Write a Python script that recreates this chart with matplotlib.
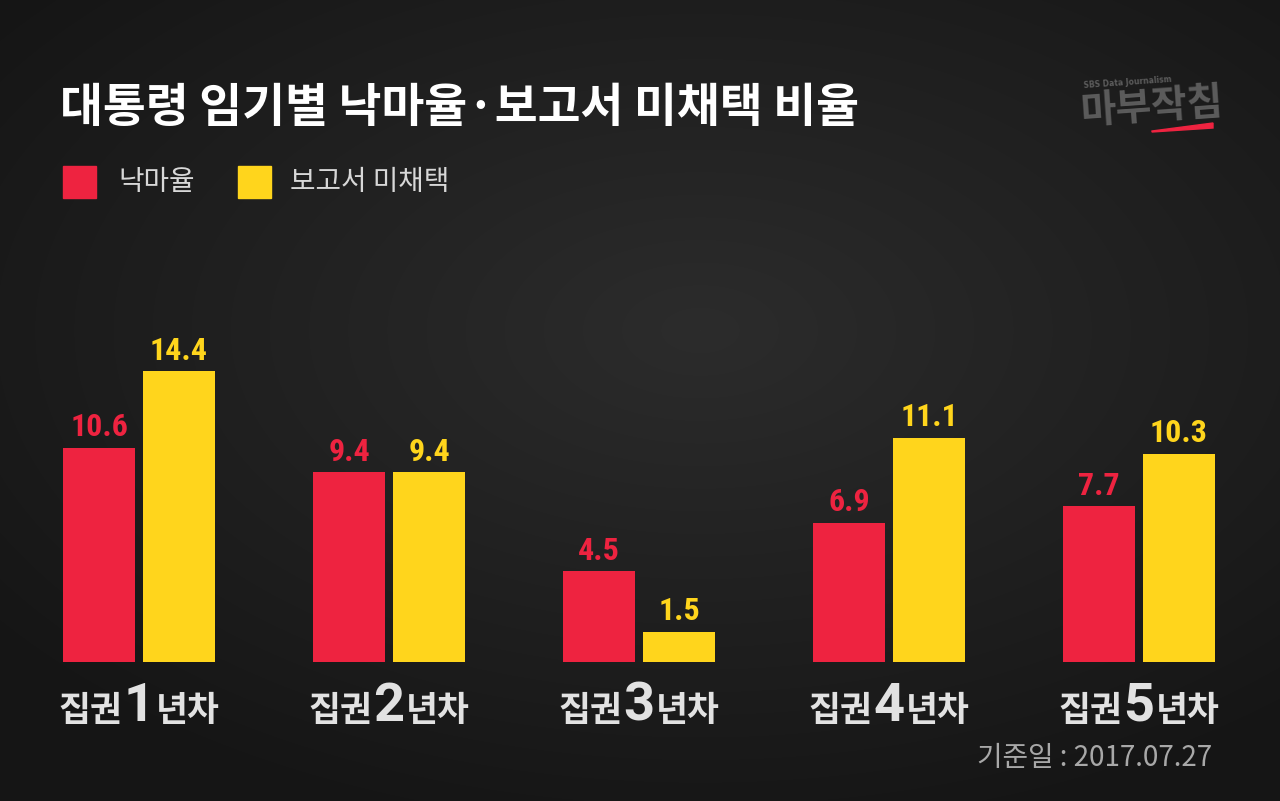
import matplotlib
matplotlib.use("Agg")
import matplotlib.pyplot as plt
import numpy as np
from matplotlib.offsetbox import TextArea, HPacker, AnnotationBbox
from matplotlib.patches import Polygon, Rectangle

plt.rcParams['font.family'] = ['Noto Sans CJK KR', 'DejaVu Sans']

title = "대통령 임기별 낙마율·보고서 미채택 비율"
series_names = ["낙마율", "보고서 미채택"]
years = ["1", "2", "3", "4", "5"]
drop_rate = [10.6, 9.4, 4.5, 6.9, 7.7]
report_unadopted = [14.4, 9.4, 1.5, 11.1, 10.3]
source = "기준일 : 2017.07.27"

RED = "#EE2340"
YEL = "#FFD51C"
BG = "#1c1c1c"

W, H = 1280, 801
fig = plt.figure(figsize=(W / 100, H / 100), dpi=100)
fig.patch.set_facecolor(BG)

# background chalkboard-like soft gradient
bg = fig.add_axes([0, 0, 1, 1], zorder=-10)
yy, xx = np.mgrid[0:H, 0:W]
r = np.sqrt(((xx - 700) / 900.0) ** 2 + ((yy - 330) / 520.0) ** 2)
val = np.clip(1 - r, 0, 1)
c0 = np.array([0x15, 0x15, 0x15]) / 255.0
c1 = np.array([0x2c, 0x2c, 0x2c]) / 255.0
img = c0[None, None, :] + (c1 - c0)[None, None, :] * val[:, :, None]
bg.imshow(img, extent=[0, W, H, 0], aspect='auto')
bg.set_axis_off()

# main axes: baseline at pixel 662
base_px = 662
px_per_unit = 20.2
ax = fig.add_axes([0, (H - base_px) / H, 1, base_px / H])
ax.set_facecolor("none")
ax.set_axis_off()
ax.set_ylim(0, base_px / px_per_unit)
spacing = 250.0
c0px = 139.0
ax.set_xlim((0 - c0px) / spacing, (W - c0px) / spacing)

x = np.arange(len(years))
bw = 72 / spacing
off = 40 / spacing
ax.bar(x - off, drop_rate, bw, color=RED)
ax.bar(x + off, report_unadopted, bw, color=YEL)

numfont = dict(family=['Roboto Condensed', 'Roboto', 'DejaVu Sans'], fontweight='bold', fontsize=23)
for xi, v in zip(x - off, drop_rate):
    ax.annotate(f"{v:.1f}", (xi, v), xytext=(0, 4), textcoords='offset points',
                ha='center', va='bottom', color=RED, **numfont)
for xi, v in zip(x + off, report_unadopted):
    ax.annotate(f"{v:.1f}", (xi, v), xytext=(0, 4), textcoords='offset points',
                ha='center', va='bottom', color=YEL, **numfont)

# category labels
LG = "#e2e2e2"
for xi, yr in zip(x, years):
    t1 = TextArea("집권", textprops=dict(color=LG, fontsize=25, fontweight='bold', family=['Noto Sans CJK KR']))
    t2 = TextArea(yr, textprops=dict(color=LG, fontsize=39, fontweight='bold', family=['Roboto', 'DejaVu Sans']))
    t3 = TextArea("년차", textprops=dict(color=LG, fontsize=25, fontweight='bold', family=['Noto Sans CJK KR']))
    pack = HPacker(children=[t1, t2, t3], align='baseline', pad=0, sep=1)
    ab = AnnotationBbox(pack, (xi, 0), xybox=(0, -32), boxcoords='offset points',
                        frameon=False, box_alignment=(0.5, 0.5))
    ax.add_artist(ab)

# title
fig.text(60 / W, 1 - 108 / H, title, color='white', fontsize=33.6, fontweight='bold',
         ha='left', va='center')

# legend
fig.add_artist(Rectangle((63 / W, 1 - 198 / H), 33 / W, 32 / H, color=RED, transform=fig.transFigure))
fig.text(118 / W, 1 - 182 / H, series_names[0], color="#d8d8d8", fontsize=20, ha='left', va='center')
fig.add_artist(Rectangle((238 / W, 1 - 198 / H), 33 / W, 32 / H, color=YEL, transform=fig.transFigure))
fig.text(290 / W, 1 - 182 / H, series_names[1], color="#d8d8d8", fontsize=20, ha='left', va='center')

# source
fig.text(1212 / W, 1 - 758 / H, source, color="#a8a8a8", fontsize=20, ha='right', va='center',
         fontweight='light')

# logo
fig.text(1152 / W, 1 - 108 / H, "마부작침", color="#5c5c5c", fontsize=28, fontweight='black',
         ha='center', va='center', rotation=4)
fig.text(1128 / W, 1 - 82 / H, "SBS Data Journalism", color="#5c5c5c", fontsize=5.5, fontweight='bold',
         ha='center', va='center', rotation=4, family=['DejaVu Sans'])
fig.add_artist(Polygon([(1152 / W, 1 - 131 / H), (1213 / W, 1 - 123 / H), (1213 / W, 1 - 128 / H),
                        (1152 / W, 1 - 132 / H)], closed=True, color=RED, transform=fig.transFigure))

fig.savefig("out.png", dpi=100, facecolor=BG)
